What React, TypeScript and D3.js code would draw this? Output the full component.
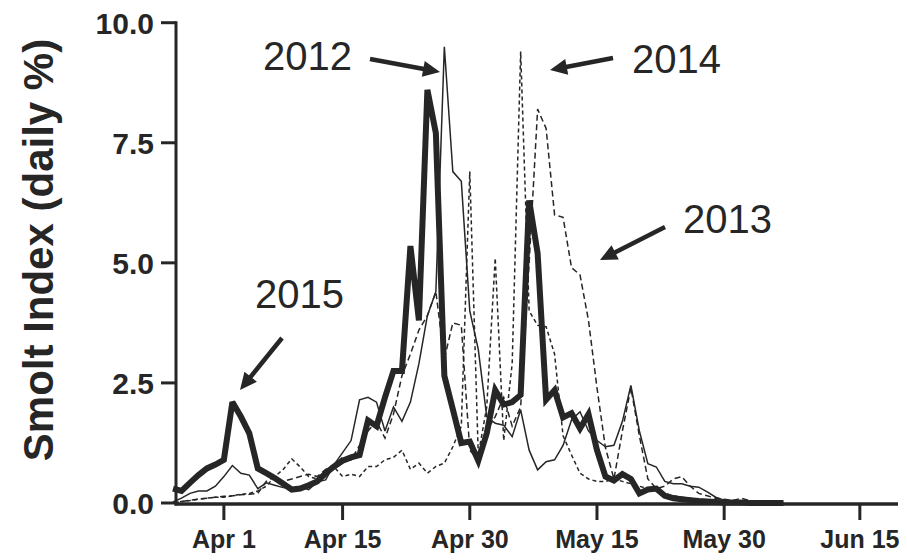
import React from "react";
import * as d3 from "d3";

const W = 907;
const H = 560;

// Daily series start on Mar 26 (one value per day)
const startDate = new Date(2015, 2, 26);

const y2015 = [0.30,0.25,0.42,0.58,0.72,0.80,
  0.90,2.10,1.80,1.45,0.72,0.62,0.52,0.40,0.28,0.30,
  0.37,0.45,0.62,0.76,0.88,0.95,1.00,1.72,1.60,2.20,
  2.75,2.75,5.35,3.80,8.60,7.70,2.65,1.95,1.25,1.28,
  0.88,1.45,2.35,2.05,2.10,2.25,6.30,5.20,2.15,2.35,
  1.78,1.87,1.55,1.85,1.10,0.55,0.47,0.60,0.50,0.20,
  0.28,0.30,0.15,0.10,0.08,0.06,0.04,0.03,0.02,0.01,
  0.01,0.01,0.00,0.00,0.00,0.00,0.00];

const y2012 = [0.02,0.10,0.20,0.25,0.25,0.35,
  0.55,0.78,0.62,0.58,0.30,0.42,0.37,0.32,0.30,0.33,
  0.28,0.44,0.48,0.80,1.05,1.30,2.15,2.20,2.10,1.50,
  2.00,1.70,2.10,2.90,3.90,4.40,9.50,6.90,6.70,4.00,
  3.20,1.80,1.66,1.62,1.38,1.94,1.10,0.69,0.86,0.90,
  1.20,1.73,1.90,1.50,1.30,1.17,1.20,1.70,2.45,1.50,
  0.82,0.75,0.45,0.40,0.40,0.35,0.33,0.23,0.12,0.06,
  0.02,0.01,0.00,0.00,0.00,0.00,0.00];

const y2013 = [0.00,0.03,0.06,0.08,0.10,0.12,
  0.14,0.15,0.17,0.18,0.20,0.45,0.55,0.45,0.50,0.55,
  0.60,0.55,0.70,0.80,0.95,0.90,1.20,1.50,1.70,1.35,
  1.85,2.65,3.10,3.60,3.90,4.40,3.00,3.75,3.70,1.10,
  0.90,1.50,1.80,2.20,1.60,2.00,5.00,8.20,7.80,6.00,
  5.95,4.90,4.75,3.80,2.40,1.15,0.50,1.50,2.40,1.40,
  0.50,0.30,0.35,0.50,0.55,0.35,0.20,0.15,0.10,0.08,
  0.05,0.10,0.05,0.02,0.01,0.00,0.00];

const y2014 = [0.00,0.03,0.05,0.08,0.10,0.12,
  0.12,0.15,0.18,0.20,0.25,0.35,0.55,0.70,0.92,0.75,
  0.55,0.50,0.62,0.75,0.55,0.60,0.55,0.76,0.76,0.90,
  0.95,1.10,0.70,0.83,0.62,0.76,0.83,1.17,1.60,6.90,
  1.00,2.00,5.10,1.30,2.90,9.40,4.00,3.70,3.67,3.10,
  1.40,1.00,0.62,0.50,0.45,0.45,0.50,0.45,0.40,0.35,
  0.30,0.25,0.20,0.15,0.12,0.10,0.08,0.06,0.05,0.04,
  0.03,0.02,0.01,0.00,0.00,0.00,0.00];

const yTicks = [0, 2.5, 5, 7.5, 10];
const yTickLabels = ["0.0", "2.5", "5.0", "7.5", "10.0"];
const xTickDates = [new Date(2015, 3, 1), new Date(2015, 3, 15), new Date(2015, 3, 30), new Date(2015, 4, 15), new Date(2015, 4, 30), new Date(2015, 5, 15)];
const xTickLabels = ["Apr 1", "Apr 15", "Apr 30", "May 15", "May 30", "Jun 15"];

const seriesNames = ["2013", "2014", "2012", "2015"];

const FONT = "'Liberation Sans', Arial, Helvetica, sans-serif";
const INK = "#262626";

function Arrow({ x1, y1, x2, y2 }: { x1: number; y1: number; x2: number; y2: number }) {
  const dx = x2 - x1, dy = y2 - y1;
  const len = Math.hypot(dx, dy);
  const ux = dx / len, uy = dy / len;
  const hl = 17, hw = 8;
  const bx = x2 - ux * hl, by = y2 - uy * hl;
  const px = -uy, py = ux;
  const pts = `${x2},${y2} ${bx + px * hw},${by + py * hw} ${bx - px * hw},${by - py * hw}`;
  return (
    <g>
      <line x1={x1} y1={y1} x2={bx + ux * 2} y2={by + uy * 2} stroke={INK} strokeWidth={4.5} />
      <polygon points={pts} fill={INK} />
    </g>
  );
}

export default function App() {
  const x = d3.scaleTime()
    .domain([new Date(2015, 2, 26), new Date(2015, 5, 19, 12)])
    .range([173, 898]);
  const y = d3.scaleLinear().domain([0, 10]).range([503, 22.7]);

  const dateAt = (i: number) => d3.timeDay.offset(startDate, i);
  const mk = (vals: number[]) =>
    d3.line<number>()
      .x((_, i) => x(dateAt(i)))
      .y((v) => y(v))(vals) || "";

  const axisX = 176;
  const axisY = 504;

  const series = [
    { name: seriesNames[0], vals: y2013, w: 1.5, dash: "6,3.5" },
    { name: seriesNames[1], vals: y2014, w: 1.5, dash: "4,3" },
    { name: seriesNames[2], vals: y2012, w: 1.5, dash: undefined },
    { name: seriesNames[3], vals: y2015, w: 6, dash: undefined },
  ];

  return (
    <svg width={W} height={H} style={{ position: "absolute", left: 0, top: 0, background: "#fff" }} fontFamily={FONT}>
      <rect width={W} height={H} fill="#fff" />
      {series.map((s) => (
        <path key={s.name} d={mk(s.vals)} fill="none" stroke={INK} strokeWidth={s.w}
          strokeDasharray={s.dash} strokeLinejoin="miter" strokeMiterlimit={3} />
      ))}
      {/* y axis */}
      <line x1={axisX} y1={y(10) - 1.5} x2={axisX} y2={axisY + 1.5} stroke={INK} strokeWidth={3} />
      {yTicks.map((t, i) => (
        <g key={t}>
          <line x1={axisX - 15} x2={axisX} y1={y(t)} y2={y(t)} stroke={INK} strokeWidth={3} />
          <text x={154} y={y(t)} dy="0.36em" textAnchor="end" fontSize={30} fontWeight="bold" fill={INK}>
            {yTickLabels[i]}
          </text>
        </g>
      ))}
      {/* x axis */}
      <line x1={axisX - 1.5} y1={axisY} x2={898} y2={axisY} stroke={INK} strokeWidth={3.5} />
      {xTickDates.map((t, i) => (
        <g key={i}>
          <line x1={x(t)} x2={x(t)} y1={axisY} y2={axisY + 16} stroke={INK} strokeWidth={3} />
          <text x={x(t)} y={548} textAnchor="middle" fontSize={25} fontWeight="bold" fill={INK}>
            {xTickLabels[i]}
          </text>
        </g>
      ))}
      {/* y title */}
      <text transform="translate(53,250) rotate(-90)" textAnchor="middle" fontSize={42} fontWeight="bold" fill={INK}>
        Smolt Index (daily %)
      </text>
      {/* annotations */}
      <text x={263} y={70} fontSize={40} fill={INK}>2012</text>
      <Arrow x1={370} y1={59} x2={440} y2={72} />
      <text x={632} y={73} fontSize={40} fill={INK}>2014</text>
      <Arrow x1={613} y1={58} x2={550} y2={70} />
      <text x={683} y={233} fontSize={40} fill={INK}>2013</text>
      <Arrow x1={665} y1={227} x2={600} y2={260} />
      <text x={255} y={308} fontSize={40} fill={INK}>2015</text>
      <Arrow x1={282} y1={338} x2={240} y2={390} />
    </svg>
  );
}
